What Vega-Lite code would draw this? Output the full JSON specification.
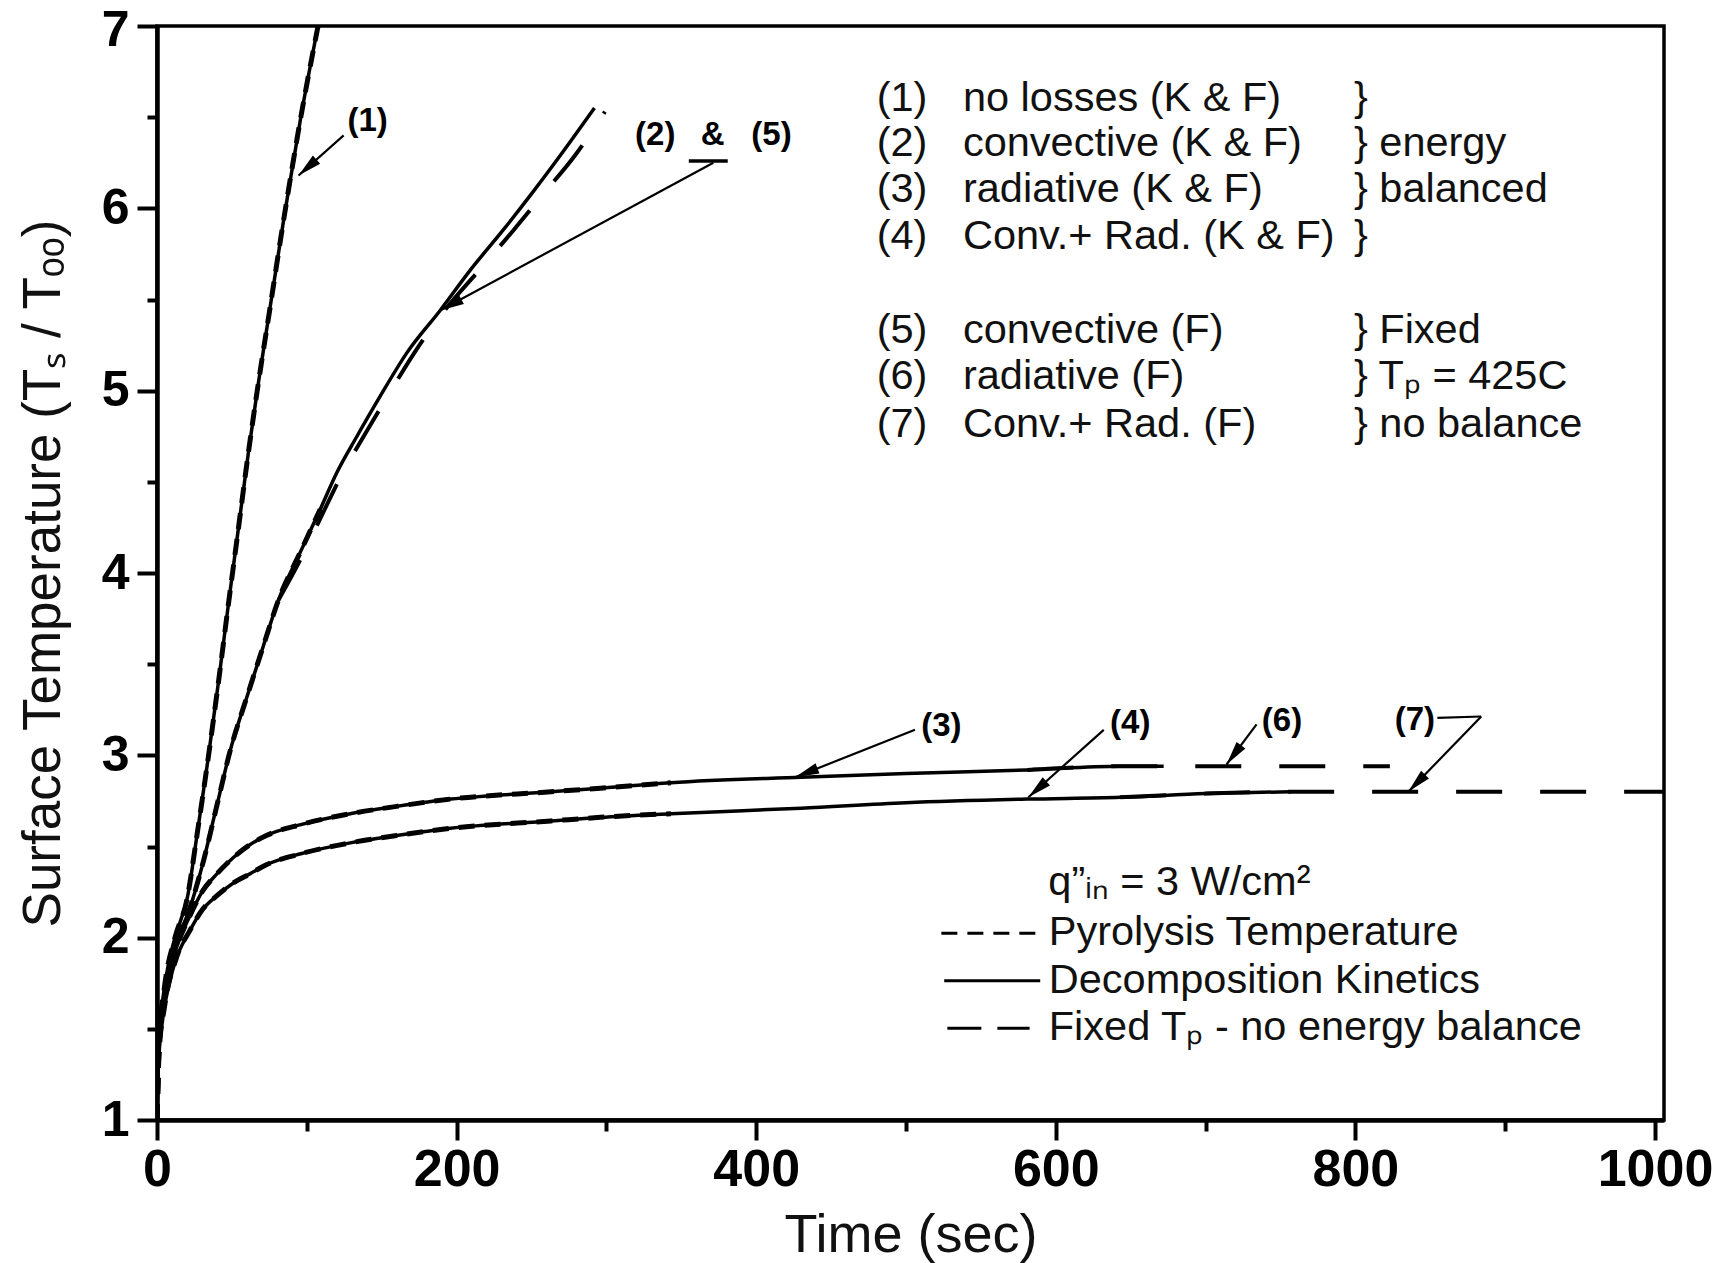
{
  "$schema": "https://vega.github.io/schema/vega-lite/v6.json",
  "width": 1507,
  "height": 1094,
  "autosize": {"type": "none"},
  "padding": {"left": 157, "top": 26, "right": 66, "bottom": 143},
  "background": "white",
  "config": {"view": {"stroke": "black", "strokeWidth": 3.5}, "font": "Liberation Sans"},
  "datasets": {
    "curves": [
      {"case":"1","model":"kinetics","time":0,"temp":1.0},{"case":"1","model":"kinetics","time":0.5,"temp":1.25},{"case":"1","model":"kinetics","time":1.5,"temp":1.45},{"case":"1","model":"kinetics","time":3,"temp":1.6},{"case":"1","model":"kinetics","time":5,"temp":1.73},{"case":"1","model":"kinetics","time":8,"temp":1.87},{"case":"1","model":"kinetics","time":12,"temp":2.0},{"case":"1","model":"kinetics","time":16,"temp":2.1},{"case":"1","model":"kinetics","time":20,"temp":2.21},{"case":"1","model":"kinetics","time":27,"temp":2.58},{"case":"1","model":"kinetics","time":33.4,"temp":2.94},{"case":"1","model":"kinetics","time":41,"temp":3.4},{"case":"1","model":"kinetics","time":48,"temp":3.85},{"case":"1","model":"kinetics","time":53,"temp":4.16},{"case":"1","model":"kinetics","time":61,"temp":4.66},{"case":"1","model":"kinetics","time":68,"temp":5.06},{"case":"1","model":"kinetics","time":75,"temp":5.43},{"case":"1","model":"kinetics","time":85,"temp":5.96},{"case":"1","model":"kinetics","time":96,"temp":6.5},{"case":"1","model":"kinetics","time":107.5,"temp":7.0},

      {"case":"1","model":"pyrolysis","time":0,"temp":1.0},{"case":"1","model":"pyrolysis","time":1.5,"temp":1.45},{"case":"1","model":"pyrolysis","time":5,"temp":1.73},{"case":"1","model":"pyrolysis","time":12,"temp":2.0},{"case":"1","model":"pyrolysis","time":20,"temp":2.21},{"case":"1","model":"pyrolysis","time":27,"temp":2.58},{"case":"1","model":"pyrolysis","time":33.4,"temp":2.94},{"case":"1","model":"pyrolysis","time":41,"temp":3.4},{"case":"1","model":"pyrolysis","time":48,"temp":3.85},{"case":"1","model":"pyrolysis","time":53,"temp":4.16},{"case":"1","model":"pyrolysis","time":61,"temp":4.66},{"case":"1","model":"pyrolysis","time":68,"temp":5.06},{"case":"1","model":"pyrolysis","time":75,"temp":5.43},{"case":"1","model":"pyrolysis","time":85,"temp":5.96},{"case":"1","model":"pyrolysis","time":96,"temp":6.5},{"case":"1","model":"pyrolysis","time":107.5,"temp":7.0},

      {"case":"2","model":"kinetics","time":0,"temp":1.0},{"case":"2","model":"kinetics","time":0.5,"temp":1.25},{"case":"2","model":"kinetics","time":1.5,"temp":1.43},{"case":"2","model":"kinetics","time":3,"temp":1.57},{"case":"2","model":"kinetics","time":5,"temp":1.7},{"case":"2","model":"kinetics","time":8,"temp":1.83},{"case":"2","model":"kinetics","time":12,"temp":1.96},{"case":"2","model":"kinetics","time":16,"temp":2.04},{"case":"2","model":"kinetics","time":21,"temp":2.14},{"case":"2","model":"kinetics","time":26,"temp":2.27},{"case":"2","model":"kinetics","time":31,"temp":2.42},{"case":"2","model":"kinetics","time":36,"temp":2.59},{"case":"2","model":"kinetics","time":41,"temp":2.76},{"case":"2","model":"kinetics","time":49,"temp":3.03},{"case":"2","model":"kinetics","time":60,"temp":3.32},{"case":"2","model":"kinetics","time":71,"temp":3.6},{"case":"2","model":"kinetics","time":81,"temp":3.85},{"case":"2","model":"kinetics","time":96,"temp":4.12},{"case":"2","model":"kinetics","time":109,"temp":4.35},{"case":"2","model":"kinetics","time":120,"temp":4.55},{"case":"2","model":"kinetics","time":133.5,"temp":4.75},{"case":"2","model":"kinetics","time":149,"temp":4.97},{"case":"2","model":"kinetics","time":167,"temp":5.21},{"case":"2","model":"kinetics","time":189,"temp":5.44},{"case":"2","model":"kinetics","time":209,"temp":5.66},{"case":"2","model":"kinetics","time":231,"temp":5.88},{"case":"2","model":"kinetics","time":251,"temp":6.09},{"case":"2","model":"kinetics","time":271,"temp":6.31},{"case":"2","model":"kinetics","time":292,"temp":6.55},

      {"case":"3","model":"kinetics","time":0,"temp":1.0},{"case":"3","model":"kinetics","time":0.5,"temp":1.25},{"case":"3","model":"kinetics","time":1.5,"temp":1.43},{"case":"3","model":"kinetics","time":3,"temp":1.56},{"case":"3","model":"kinetics","time":5,"temp":1.68},{"case":"3","model":"kinetics","time":8,"temp":1.8},{"case":"3","model":"kinetics","time":12,"temp":1.92},{"case":"3","model":"kinetics","time":16,"temp":2.01},{"case":"3","model":"kinetics","time":22,"temp":2.12},{"case":"3","model":"kinetics","time":30,"temp":2.25},{"case":"3","model":"kinetics","time":40,"temp":2.35},{"case":"3","model":"kinetics","time":51,"temp":2.44},{"case":"3","model":"kinetics","time":62,"temp":2.51},{"case":"3","model":"kinetics","time":73,"temp":2.56},{"case":"3","model":"kinetics","time":96,"temp":2.62},{"case":"3","model":"kinetics","time":129,"temp":2.68},{"case":"3","model":"kinetics","time":160,"temp":2.72},{"case":"3","model":"kinetics","time":196,"temp":2.76},{"case":"3","model":"kinetics","time":263,"temp":2.8},{"case":"3","model":"kinetics","time":296,"temp":2.82},{"case":"3","model":"kinetics","time":343,"temp":2.85},{"case":"3","model":"kinetics","time":430,"temp":2.88},{"case":"3","model":"kinetics","time":500,"temp":2.9},{"case":"3","model":"kinetics","time":581,"temp":2.92},{"case":"3","model":"kinetics","time":643,"temp":2.94},{"case":"3","model":"kinetics","time":672,"temp":2.94},

      {"case":"4","model":"kinetics","time":0,"temp":1.0},{"case":"4","model":"kinetics","time":0.5,"temp":1.22},{"case":"4","model":"kinetics","time":1.5,"temp":1.38},{"case":"4","model":"kinetics","time":3,"temp":1.5},{"case":"4","model":"kinetics","time":5,"temp":1.62},{"case":"4","model":"kinetics","time":8,"temp":1.74},{"case":"4","model":"kinetics","time":13,"temp":1.89},{"case":"4","model":"kinetics","time":18,"temp":1.98},{"case":"4","model":"kinetics","time":22,"temp":2.04},{"case":"4","model":"kinetics","time":30,"temp":2.15},{"case":"4","model":"kinetics","time":40,"temp":2.23},{"case":"4","model":"kinetics","time":51,"temp":2.3},{"case":"4","model":"kinetics","time":62,"temp":2.35},{"case":"4","model":"kinetics","time":73,"temp":2.4},{"case":"4","model":"kinetics","time":96,"temp":2.46},{"case":"4","model":"kinetics","time":129,"temp":2.52},{"case":"4","model":"kinetics","time":160,"temp":2.56},{"case":"4","model":"kinetics","time":196,"temp":2.6},{"case":"4","model":"kinetics","time":263,"temp":2.64},{"case":"4","model":"kinetics","time":296,"temp":2.66},{"case":"4","model":"kinetics","time":343,"temp":2.68},{"case":"4","model":"kinetics","time":430,"temp":2.71},{"case":"4","model":"kinetics","time":500,"temp":2.74},{"case":"4","model":"kinetics","time":581,"temp":2.76},{"case":"4","model":"kinetics","time":643,"temp":2.77},{"case":"4","model":"kinetics","time":700,"temp":2.79},{"case":"4","model":"kinetics","time":757,"temp":2.8},

      {"case":"2","model":"pyrolysis","time":0,"temp":1.0},{"case":"2","model":"pyrolysis","time":1.5,"temp":1.43},{"case":"2","model":"pyrolysis","time":5,"temp":1.7},{"case":"2","model":"pyrolysis","time":12,"temp":1.96},{"case":"2","model":"pyrolysis","time":21,"temp":2.14},{"case":"2","model":"pyrolysis","time":31,"temp":2.42},{"case":"2","model":"pyrolysis","time":41,"temp":2.76},{"case":"2","model":"pyrolysis","time":49,"temp":3.03},{"case":"2","model":"pyrolysis","time":60,"temp":3.32},{"case":"2","model":"pyrolysis","time":71,"temp":3.6},{"case":"2","model":"pyrolysis","time":81,"temp":3.85},{"case":"2","model":"pyrolysis","time":96,"temp":4.12},{"case":"2","model":"pyrolysis","time":109,"temp":4.35},

      {"case":"3","model":"pyrolysis","time":0,"temp":1.0},{"case":"3","model":"pyrolysis","time":1.5,"temp":1.43},{"case":"3","model":"pyrolysis","time":5,"temp":1.68},{"case":"3","model":"pyrolysis","time":12,"temp":1.92},{"case":"3","model":"pyrolysis","time":22,"temp":2.12},{"case":"3","model":"pyrolysis","time":30,"temp":2.25},{"case":"3","model":"pyrolysis","time":40,"temp":2.35},{"case":"3","model":"pyrolysis","time":51,"temp":2.44},{"case":"3","model":"pyrolysis","time":62,"temp":2.51},{"case":"3","model":"pyrolysis","time":73,"temp":2.56},{"case":"3","model":"pyrolysis","time":96,"temp":2.62},{"case":"3","model":"pyrolysis","time":129,"temp":2.68},{"case":"3","model":"pyrolysis","time":160,"temp":2.72},{"case":"3","model":"pyrolysis","time":196,"temp":2.76},{"case":"3","model":"pyrolysis","time":263,"temp":2.8},{"case":"3","model":"pyrolysis","time":296,"temp":2.82},{"case":"3","model":"pyrolysis","time":343,"temp":2.85},

      {"case":"4","model":"pyrolysis","time":0,"temp":1.0},{"case":"4","model":"pyrolysis","time":1.5,"temp":1.38},{"case":"4","model":"pyrolysis","time":5,"temp":1.62},{"case":"4","model":"pyrolysis","time":13,"temp":1.89},{"case":"4","model":"pyrolysis","time":22,"temp":2.04},{"case":"4","model":"pyrolysis","time":30,"temp":2.15},{"case":"4","model":"pyrolysis","time":40,"temp":2.23},{"case":"4","model":"pyrolysis","time":51,"temp":2.3},{"case":"4","model":"pyrolysis","time":62,"temp":2.35},{"case":"4","model":"pyrolysis","time":73,"temp":2.4},{"case":"4","model":"pyrolysis","time":96,"temp":2.46},{"case":"4","model":"pyrolysis","time":129,"temp":2.52},{"case":"4","model":"pyrolysis","time":160,"temp":2.56},{"case":"4","model":"pyrolysis","time":196,"temp":2.6},{"case":"4","model":"pyrolysis","time":263,"temp":2.64},{"case":"4","model":"pyrolysis","time":296,"temp":2.66},{"case":"4","model":"pyrolysis","time":343,"temp":2.68},

      {"case":"5","model":"fixed","time":81,"temp":3.85},{"case":"5","model":"fixed","time":98,"temp":4.11},{"case":"5","model":"fixed","time":112,"temp":4.35},{"case":"5","model":"fixed","time":124,"temp":4.55},{"case":"5","model":"fixed","time":138,"temp":4.75},{"case":"5","model":"fixed","time":154,"temp":4.97},{"case":"5","model":"fixed","time":172,"temp":5.21},{"case":"5","model":"fixed","time":192,"temp":5.44},{"case":"5","model":"fixed","time":215,"temp":5.66},{"case":"5","model":"fixed","time":238,"temp":5.88},{"case":"5","model":"fixed","time":258,"temp":6.08},{"case":"5","model":"fixed","time":279,"temp":6.29},{"case":"5","model":"fixed","time":299,"temp":6.53},

      {"case":"6","model":"fixed","time":581,"temp":2.92},{"case":"6","model":"fixed","time":643,"temp":2.94},{"case":"6","model":"fixed","time":672,"temp":2.94},{"case":"6","model":"fixed","time":823,"temp":2.94},

      {"case":"7","model":"fixed","time":643,"temp":2.77},{"case":"7","model":"fixed","time":700,"temp":2.79},{"case":"7","model":"fixed","time":757,"temp":2.8},{"case":"7","model":"fixed","time":850,"temp":2.8},{"case":"7","model":"fixed","time":1006,"temp":2.8}
    ],
    "notes": [
      {"group":"legend","time":480.4,"temp":6.60,"label":"(1)"},
      {"group":"legend","time":480.4,"temp":6.353,"label":"(2)"},
      {"group":"legend","time":480.4,"temp":6.098,"label":"(3)"},
      {"group":"legend","time":480.4,"temp":5.844,"label":"(4)"},
      {"group":"legend","time":480.4,"temp":5.329,"label":"(5)"},
      {"group":"legend","time":480.4,"temp":5.075,"label":"(6)"},
      {"group":"legend","time":480.4,"temp":4.814,"label":"(7)"},
      {"group":"legend","time":538,"temp":6.60,"label":"no losses (K & F)"},
      {"group":"legend","time":538,"temp":6.353,"label":"convective (K & F)"},
      {"group":"legend","time":538,"temp":6.098,"label":"radiative (K & F)"},
      {"group":"legend","time":538,"temp":5.844,"label":"Conv.+ Rad. (K & F)"},
      {"group":"legend","time":538,"temp":5.329,"label":"convective (F)"},
      {"group":"legend","time":538,"temp":5.075,"label":"radiative (F)"},
      {"group":"legend","time":538,"temp":4.814,"label":"Conv.+ Rad. (F)"},
      {"group":"legend","time":799,"temp":6.60,"label":"}"},
      {"group":"legend","time":799,"temp":6.353,"label":"} energy"},
      {"group":"legend","time":799,"temp":6.098,"label":"} balanced"},
      {"group":"legend","time":799,"temp":5.844,"label":"}"},
      {"group":"legend","time":799,"temp":5.329,"label":"} Fixed"},
      {"group":"legend","time":799,"temp":5.075,"label":"} Tₚ = 425C"},
      {"group":"legend","time":799,"temp":4.814,"label":"} no balance"},
      {"group":"legend","time":595,"temp":2.30,"label":"q”ᵢₙ = 3 W/cm²"},
      {"group":"legend","time":595.3,"temp":2.024,"label":"Pyrolysis Temperature"},
      {"group":"legend","time":595.3,"temp":1.764,"label":"Decomposition Kinetics"},
      {"group":"legend","time":595.3,"temp":1.503,"label":"Fixed Tₚ - no energy balance"},
      {"group":"curve","time":140.6,"temp":6.48,"label":"(1)"},
      {"group":"curve","time":332.6,"temp":6.40,"label":"(2)"},
      {"group":"curve","time":371,"temp":6.40,"label":"&"},
      {"group":"curve","time":410.2,"temp":6.40,"label":"(5)"},
      {"group":"curve","time":523.6,"temp":3.16,"label":"(3)"},
      {"group":"curve","time":649.7,"temp":3.18,"label":"(4)"},
      {"group":"curve","time":751,"temp":3.19,"label":"(6)"},
      {"group":"curve","time":839.7,"temp":3.195,"label":"(7)"}
    ],
    "leaders": [
      {"id":"1","time":124.6,"temp":6.40,"time2":94.5,"temp2":6.18},
      {"id":"25","time":371.4,"temp":6.25,"time2":189,"temp2":5.44},
      {"id":"3","time":506,"temp":3.14,"time2":426,"temp2":2.88},
      {"id":"4","time":632,"temp":3.14,"time2":581.7,"temp2":2.77},
      {"id":"6","time":734,"temp":3.17,"time2":714,"temp2":2.95},
      {"id":"7h","time":854.7,"temp":3.205,"time2":884,"temp2":3.213},
      {"id":"7","time":884,"temp":3.213,"time2":835.3,"temp2":2.80}
    ],
    "underline": [
      {"time":355,"time2":381,"temp":6.26}
    ],
    "tips": [
      {"id":"1","time":94.5,"temp":6.18},
      {"id":"25","time":189,"temp":5.44},
      {"id":"3","time":426,"temp":2.88},
      {"id":"4","time":581.7,"temp":2.77},
      {"id":"6","time":714,"temp":2.95},
      {"id":"7","time":835.3,"temp":2.80}
    ],
    "keys": [
      {"model":"pyrolysis","time":523.6,"time2":587.7,"temp":2.024},
      {"model":"kinetics","time":525.5,"time2":589.6,"temp":1.764},
      {"model":"fixed","time":527.6,"time2":582.5,"temp":1.503}
    ]
  },
  "encoding": {
    "x": {
      "field": "time", "type": "quantitative",
      "scale": {"domain": [0, 1006], "nice": false, "zero": false},
      "axis": {
        "title": "Time (sec)",
        "values": [0,100,200,300,400,500,600,700,800,900,1000],
        "format": "d",
        "labelExpr": "datum.value % 200 === 0 ? datum.label : ''",
        "grid": false,
        "domainColor": "black", "domainWidth": 4.5,
        "tickColor": "black", "tickWidth": 4,
        "tickSize": {"condition": {"test": "datum.value % 200 !== 0", "value": 11}, "value": 20},
        "labelFont": "Liberation Sans", "labelFontSize": 52, "labelFontWeight": "bold", "labelColor": "black",
        "labelPadding": 4, "labelFlush": false, "labelOverlap": false,
        "titleFont": "Liberation Sans", "titleFontSize": 54, "titleFontWeight": "normal", "titleColor": "#111",
        "titlePadding": 13
      }
    },
    "y": {
      "field": "temp", "type": "quantitative",
      "scale": {"domain": [1, 7], "nice": false, "zero": false},
      "axis": {
        "title": "Surface Temperature (Tₛ / Tₒₒ)",
        "values": [1,1.5,2,2.5,3,3.5,4,4.5,5,5.5,6,6.5,7],
        "labelExpr": "datum.value % 1 === 0 ? format(datum.value, 'd') : ''",
        "grid": false,
        "domainColor": "black", "domainWidth": 4.5,
        "tickColor": "black", "tickWidth": 4,
        "tickSize": {"condition": {"test": "datum.value % 1 !== 0", "value": 10}, "value": 20},
        "labelFont": "Liberation Sans", "labelFontSize": 50, "labelFontWeight": "bold", "labelColor": "black",
        "labelOffset": {"condition": {"test": "datum.value === 7", "value": 4}, "value": 0},
        "labelPadding": 8, "labelFlush": false, "labelOverlap": false,
        "titleFont": "Liberation Sans", "titleFontSize": 53, "titleFontWeight": "normal", "titleColor": "#111",
        "titlePadding": 31
      }
    }
  },
  "layer": [
    {
      "data": {"name": "curves"},
      "transform": [{"filter": "datum.model === 'kinetics'"}],
      "mark": {"type": "line", "color": "black", "strokeWidth": 3.5, "interpolate": "monotone", "clip": true},
      "encoding": {"detail": {"field": "case"}}
    },
    {
      "data": {"name": "curves"},
      "transform": [{"filter": "datum.model === 'pyrolysis'"}],
      "mark": {"type": "line", "color": "black", "strokeWidth": 5, "strokeDash": [16, 10], "interpolate": "monotone", "clip": true},
      "encoding": {"detail": {"field": "case"}}
    },
    {
      "data": {"name": "curves"},
      "transform": [{"filter": "datum.model === 'fixed'"}],
      "mark": {"type": "line", "color": "black", "strokeWidth": 4, "strokeDash": [46, 38], "interpolate": "monotone", "clip": true},
      "encoding": {"detail": {"field": "case"}}
    },
    {
      "data": {"name": "leaders"},
      "mark": {"type": "rule", "color": "black", "strokeWidth": 2.2},
      "encoding": {"x2": {"field": "time2"}, "y2": {"field": "temp2"}}
    },
    {
      "data": {"name": "underline"},
      "mark": {"type": "rule", "color": "black", "strokeWidth": 3.5},
      "encoding": {"x2": {"field": "time2"}}
    },
    {
      "data": {"name": "tips"},
      "transform": [{"filter": "datum.id === '1'"}],
      "mark": {"type": "point", "filled": true, "color": "black", "opacity": 1, "shape": "M0,0L0.55,2.4L-0.55,2.4Z", "size": 400, "angle": 228.4}
    },
    {
      "data": {"name": "tips"},
      "transform": [{"filter": "datum.id === '25'"}],
      "mark": {"type": "point", "filled": true, "color": "black", "opacity": 1, "shape": "M0,0L0.55,2.4L-0.55,2.4Z", "size": 400, "angle": 241.7}
    },
    {
      "data": {"name": "tips"},
      "transform": [{"filter": "datum.id === '3'"}],
      "mark": {"type": "point", "filled": true, "color": "black", "opacity": 1, "shape": "M0,0L0.55,2.4L-0.55,2.4Z", "size": 400, "angle": 248.7}
    },
    {
      "data": {"name": "tips"},
      "transform": [{"filter": "datum.id === '4'"}],
      "mark": {"type": "point", "filled": true, "color": "black", "opacity": 1, "shape": "M0,0L0.55,2.4L-0.55,2.4Z", "size": 400, "angle": 228.4}
    },
    {
      "data": {"name": "tips"},
      "transform": [{"filter": "datum.id === '6'"}],
      "mark": {"type": "point", "filled": true, "color": "black", "opacity": 1, "shape": "M0,0L0.55,2.4L-0.55,2.4Z", "size": 400, "angle": 216.9}
    },
    {
      "data": {"name": "tips"},
      "transform": [{"filter": "datum.id === '7'"}],
      "mark": {"type": "point", "filled": true, "color": "black", "opacity": 1, "shape": "M0,0L0.55,2.4L-0.55,2.4Z", "size": 400, "angle": 224.2}
    },
    {
      "data": {"name": "notes"},
      "transform": [{"filter": "datum.group === 'legend'"}],
      "mark": {"type": "text", "align": "left", "baseline": "middle", "font": "Liberation Sans", "fontSize": 41.5, "color": "#111"},
      "encoding": {"text": {"field": "label"}}
    },
    {
      "data": {"name": "notes"},
      "transform": [{"filter": "datum.group === 'curve'"}],
      "mark": {"type": "text", "align": "center", "baseline": "middle", "font": "Liberation Sans", "fontSize": 33, "fontWeight": "bold", "color": "black"},
      "encoding": {"text": {"field": "label"}}
    },
    {
      "data": {"name": "keys"},
      "transform": [{"filter": "datum.model === 'kinetics'"}],
      "mark": {"type": "rule", "color": "black", "strokeWidth": 3},
      "encoding": {"x2": {"field": "time2"}}
    },
    {
      "data": {"name": "keys"},
      "transform": [{"filter": "datum.model === 'pyrolysis'"}],
      "mark": {"type": "rule", "color": "black", "strokeWidth": 3, "strokeDash": [16, 10]},
      "encoding": {"x2": {"field": "time2"}}
    },
    {
      "data": {"name": "keys"},
      "transform": [{"filter": "datum.model === 'fixed'"}],
      "mark": {"type": "rule", "color": "black", "strokeWidth": 3, "strokeDash": [34, 16]},
      "encoding": {"x2": {"field": "time2"}}
    }
  ]
}
